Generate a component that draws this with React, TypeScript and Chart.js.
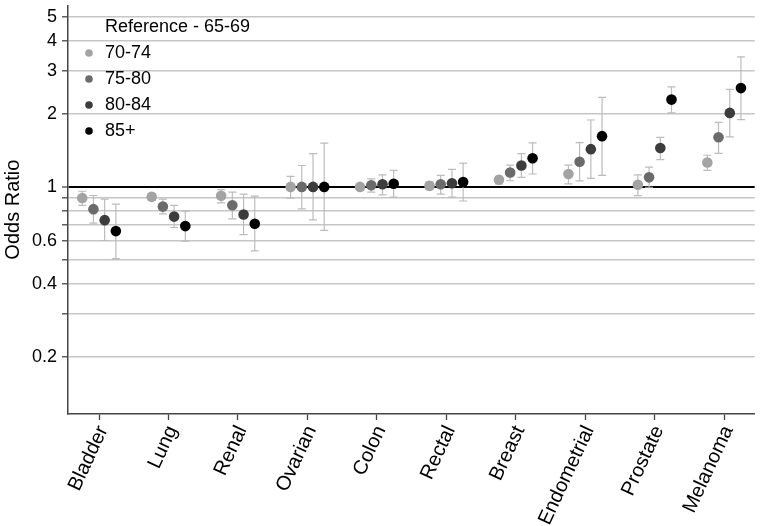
import React, { useEffect, useRef } from 'react';
import { Chart, registerables } from 'chart.js';

Chart.register(...registerables);

const FONT = '"Liberation Sans", Arial, Helvetica, sans-serif';

const categories = ['Bladder', 'Lung', 'Renal', 'Ovarian', 'Colon', 'Rectal', 'Breast', 'Endometrial', 'Prostate', 'Melanoma'];
const seriesLabels = ['70-74', '75-80', '80-84', '85+'];
const seriesColors = ['#a3a3a3', '#6b6b6b', '#3c3c3c', '#000000'];
const legendTitle = 'Reference - 65-69';
const yAxisTitle = 'Odds Ratio';

// Odds ratios and 95% CI per age group
const or7074 = [0.90, 0.91, 0.92, 1.00, 1.00, 1.01, 1.07, 1.13, 1.02, 1.26];
const lo7074 = [0.84, 0.88, 0.86, 0.90, 0.99, 0.975, 1.03, 1.03, 0.92, 1.17];
const hi7074 = [0.96, 0.94, 0.975, 1.105, 1.02, 1.05, 1.095, 1.23, 1.12, 1.35];

const or7580 = [0.81, 0.83, 0.84, 1.00, 1.016, 1.026, 1.147, 1.27, 1.095, 1.60];
const lo7580 = [0.71, 0.774, 0.739, 0.812, 0.951, 0.934, 1.06, 1.058, 0.997, 1.374];
const hi7580 = [0.922, 0.891, 0.951, 1.225, 1.08, 1.115, 1.23, 1.52, 1.206, 1.843];

const or8084 = [0.73, 0.755, 0.77, 1.00, 1.026, 1.035, 1.225, 1.43, 1.445, 2.016];
const lo8084 = [0.602, 0.681, 0.636, 0.732, 0.928, 0.908, 1.095, 1.084, 1.296, 1.607];
const hi8084 = [0.891, 0.84, 0.934, 1.371, 1.12, 1.18, 1.371, 1.885, 1.60, 2.52];

const or85 = [0.658, 0.69, 0.705, 1.00, 1.03, 1.048, 1.312, 1.617, 2.286, 2.55];
const lo85 = [0.507, 0.598, 0.546, 0.663, 0.908, 0.875, 1.13, 1.116, 2.016, 1.89];
const hi85 = [0.85, 0.794, 0.916, 1.514, 1.169, 1.252, 1.518, 2.335, 2.58, 3.43];

const yTickValues = [0.2, 0.3, 0.4, 0.5, 0.6, 0.7, 0.8, 0.9, 1, 2, 3, 4, 5];
const yTickLabels = ['0.2', '', '0.4', '', '0.6', '', '', '', '1', '2', '3', '4', '5'];

const seriesOR = [or7074, or7580, or8084, or85];
const seriesLo = [lo7074, lo7580, lo8084, lo85];
const seriesHi = [hi7074, hi7580, hi8084, hi85];

const groupOffsets = [-0.242, -0.081, 0.081, 0.242];

const errorBarPlugin = {
  id: 'errorBars',
  beforeDatasetsDraw(chart: any) {
    const ctx = chart.ctx;
    const yScale = chart.scales.y;
    ctx.save();
    ctx.strokeStyle = '#bcbcbc';
    ctx.lineWidth = 1.2;
    seriesOR.forEach((_s, i) => {
      const meta = chart.getDatasetMeta(i);
      meta.data.forEach((pt: any, j: number) => {
        const x = pt.x;
        const yl = yScale.getPixelForValue(seriesLo[i][j]);
        const yh = yScale.getPixelForValue(seriesHi[i][j]);
        ctx.beginPath();
        ctx.moveTo(x, yl);
        ctx.lineTo(x, yh);
        ctx.moveTo(x - 4, yl);
        ctx.lineTo(x + 4, yl);
        ctx.moveTo(x - 4, yh);
        ctx.lineTo(x + 4, yh);
        ctx.stroke();
      });
    });
    ctx.restore();
  },
};

const legendPlugin = {
  id: 'customLegend',
  afterDraw(chart: any) {
    const ctx = chart.ctx;
    const x0 = chart.chartArea.left;
    ctx.save();
    ctx.font = `18px ${FONT}`;
    ctx.fillStyle = '#000';
    ctx.textBaseline = 'middle';
    ctx.textAlign = 'left';
    ctx.fillText(legendTitle, x0 + 37, 27);
    seriesLabels.forEach((lab, i) => {
      const y = 53 + i * 26;
      ctx.beginPath();
      ctx.fillStyle = seriesColors[i];
      ctx.arc(x0 + 21, y, 3.8, 0, Math.PI * 2);
      ctx.fill();
      ctx.fillStyle = '#000';
      ctx.fillText(lab, x0 + 37, y);
    });
    ctx.restore();
  },
};

export default function App() {
  const ref = useRef<HTMLCanvasElement | null>(null);

  useEffect(() => {
    document.body.style.margin = '0';
    if (!ref.current) return;
    const chart = new Chart(ref.current, {
      type: 'scatter',
      data: {
        datasets: seriesLabels.map((label, i) => ({
          label,
          data: seriesOR[i].map((v, j) => ({ x: j + groupOffsets[i], y: v })),
          backgroundColor: seriesColors[i],
          borderColor: seriesColors[i],
          borderWidth: 0,
          pointRadius: 5.3,
          showLine: false,
        })),
      },
      options: {
        responsive: false,
        animation: false,
        layout: { padding: 0 },
        plugins: {
          legend: { display: false },
          tooltip: { enabled: false },
        },
        scales: {
          x: {
            type: 'linear',
            min: -0.447,
            max: 9.44,
            afterBuildTicks: (s: any) => {
              s.ticks = categories.map((_c, i) => ({ value: i }));
            },
            afterFit: (s: any) => {
              s.height = 112;
              s.paddingLeft = 0;
              s.paddingRight = 0;
              s.paddingTop = 0;
              s.paddingBottom = 0;
            },
            ticks: {
              autoSkip: false,
              minRotation: 65,
              maxRotation: 65,
              padding: 2,
              labelOffset: 4,
              color: '#000',
              font: { size: 20, family: FONT },
              callback: (v: any) => categories[v] ?? '',
            },
            grid: {
              drawOnChartArea: false,
              drawTicks: true,
              tickLength: 6,
              tickColor: '#444',
              tickWidth: 1.3,
            },
            border: { display: true, color: '#444', width: 1.5 },
          },
          y: {
            type: 'logarithmic',
            min: 0.1164,
            max: 5.585,
            afterBuildTicks: (s: any) => {
              s.ticks = yTickValues.map((v) => ({ value: v }));
            },
            afterFit: (s: any) => {
              s.width = 68;
              s.paddingLeft = 0;
              s.paddingRight = 0;
              s.paddingTop = 0;
              s.paddingBottom = 0;
            },
            ticks: {
              autoSkip: false,
              padding: 5,
              color: '#000',
              font: { size: 18, family: FONT },
              callback: (v: any) => {
                const idx = yTickValues.indexOf(Number(v));
                return idx >= 0 ? yTickLabels[idx] : '';
              },
            },
            grid: {
              color: (c: any) => (c.tick && c.tick.value === 1 ? '#000' : '#c6c6c6'),
              lineWidth: (c: any) => (c.tick && c.tick.value === 1 ? 2 : 1.6),
              drawTicks: true,
              tickLength: 6,
              tickColor: '#444',
              tickWidth: 1.3,
            },
            border: { display: true, color: '#444', width: 1.5 },
            title: {
              display: true,
              text: yAxisTitle,
              color: '#000',
              font: { size: 20, family: FONT, lineHeight: 1 },
              padding: { top: 3, bottom: 0 },
            },
          },
        },
      },
      plugins: [errorBarPlugin, legendPlugin],
    });
    return () => chart.destroy();
  }, []);

  return (
    <div style={{ width: 760, height: 526 }}>
      <canvas ref={ref} width={760} height={526} style={{ display: 'block' }} />
    </div>
  );
}
